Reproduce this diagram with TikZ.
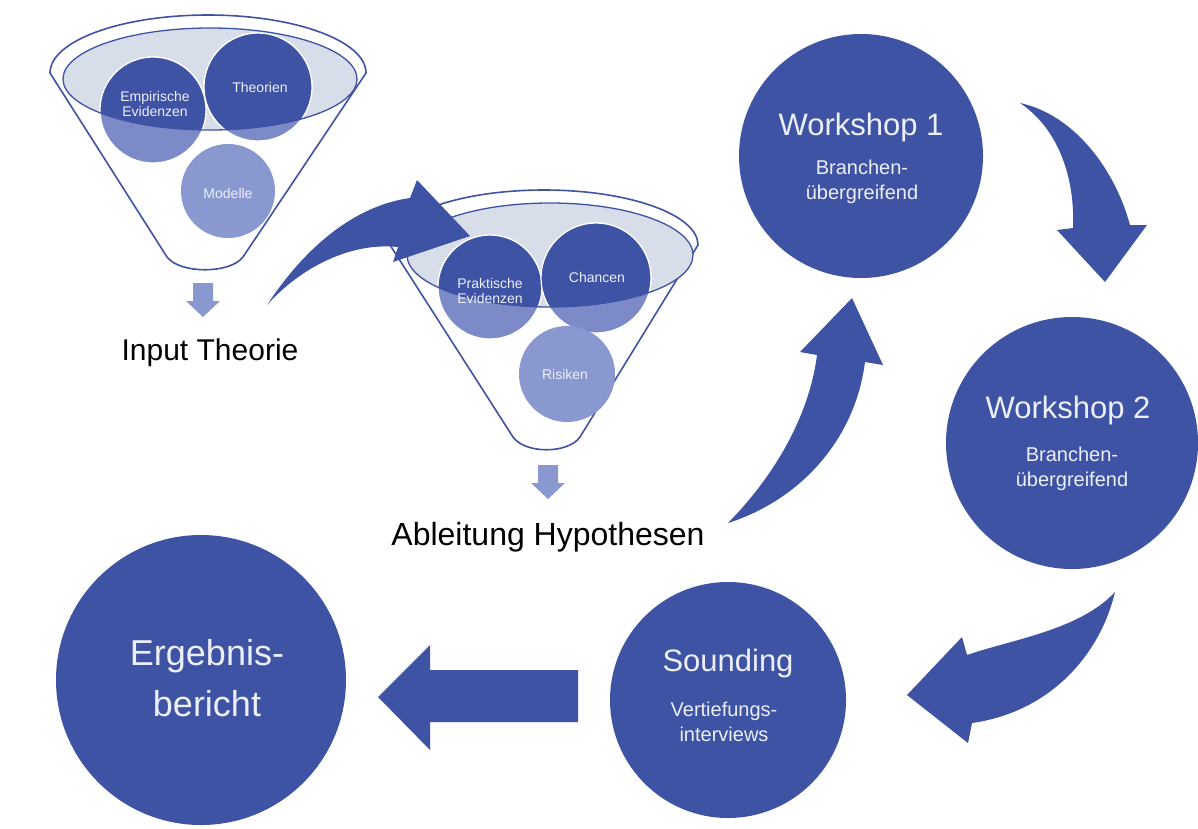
\documentclass[tikz,border=0pt]{standalone}
\usepackage{fontspec}
\setmainfont{Liberation Sans}
\usetikzlibrary{positioning}

\definecolor{deepblue}{RGB}{63,83,164}
\definecolor{midblue}{RGB}{124,139,200}
\definecolor{paleblue}{RGB}{138,152,208}
\definecolor{rimfill}{RGB}{216,221,234}
\definecolor{softwhite}{RGB}{236,239,248}

\begin{document}
\begin{tikzpicture}[x=1pt,y=-1pt,
    bigcirc/.style={circle,fill=deepblue,inner sep=0pt},
    titletxt/.style={text=softwhite,font=\fontsize{31}{36}\selectfont},
    subtxt/.style={text=softwhite,align=center,font=\fontsize{20}{25}\selectfont},
    smalltxt/.style={text=softwhite,align=center,font=\fontsize{14}{15}\selectfont},
    steptxt/.style={font=\fontsize{30}{34}\selectfont},
    funnelline/.style={draw=deepblue,line width=1.6pt},
    ringline/.style={draw=deepblue,line width=1.3pt},
    ballrim/.style={draw=white,line width=1.2pt}]
    \useasboundingbox[fill=white] (0,0) rectangle (1198,828);

    % funnel 1: input theory
    \draw[funnelline] (50,73) arc[start angle=180,end angle=360,x radius=158,y radius=58]
        -- (243,257) .. controls (230,274) and (180,274) .. (167,257) -- cycle;
    \fill[rimfill] (210,79) ellipse[x radius=147,y radius=51];
    \fill[midblue,ballrim] (153,110) circle[radius=53];
    \fill[midblue,ballrim] (258,87) circle[radius=54];
    \fill[paleblue] (228,191) circle[radius=47];
    \begin{scope}
        \clip (210,79) ellipse[x radius=147,y radius=51];
        \fill[deepblue,ballrim] (153,110) circle[radius=53];
        \fill[deepblue,ballrim] (258,87) circle[radius=54];
    \end{scope}
    \draw[ringline] (210,79) ellipse[x radius=147,y radius=51];
    \node[smalltxt] (emp) at (155,104) {Empirische\\Evidenzen};
    \node[smalltxt] (theo) at (260,87) {Theorien};
    \node[smalltxt] (mod) at (228,193) {Modelle};

    % funnel 2: hypotheses
    \draw[funnelline] (390,245) arc[start angle=180,end angle=360,x radius=154,y radius=55]
        -- (580,437) .. controls (568,454) and (525,454) .. (513,437) -- cycle;
    \fill[rimfill] (550,255) ellipse[x radius=143,y radius=52];
    \fill[midblue,ballrim] (490,287) circle[radius=52];
    \fill[midblue,ballrim] (596,278) circle[radius=55];
    \fill[paleblue] (567,374) circle[radius=48];
    \begin{scope}
        \clip (550,255) ellipse[x radius=143,y radius=52];
        \fill[deepblue,ballrim] (490,287) circle[radius=52];
        \fill[deepblue,ballrim] (596,278) circle[radius=55];
    \end{scope}
    \draw[ringline] (550,255) ellipse[x radius=143,y radius=52];
    \node[smalltxt] (prak) at (490,291) {Praktische\\Evidenzen};
    \node[smalltxt] (chan) at (597,277) {Chancen};
    \node[smalltxt] (ris) at (565,374) {Risiken};

    % small down arrows under the funnels
    \foreach \x/\y in {203/283, 548/465}
        \fill[paleblue] (\x-10,\y) -- (\x+10,\y) -- (\x+10,\y+18) -- (\x+17,\y+18)
            -- (\x,\y+34) -- (\x-17,\y+18) -- (\x-10,\y+18) -- cycle;

    \node[steptxt] (input) at (210,353) {Input Theorie};
    \node[steptxt,font=\fontsize{32}{36}\selectfont] (ableit) at (548,537) {Ableitung Hypothesen};

    % process circles
    \node[bigcirc,minimum size=244pt] (ws1) at (861,156) {};
    \node[titletxt] (ws1t) at (861,127) {Workshop 1};
    \node[subtxt] (ws1s) at (862,182) {Branchen-\\übergreifend};

    \node[bigcirc,minimum size=252pt] (ws2) at (1072,443) {};
    \node[titletxt] (ws2t) at (1068,410) {Workshop 2};
    \node[subtxt] (ws2s) at (1072,469) {Branchen-\\übergreifend};

    \node[bigcirc,minimum size=236pt] (sound) at (728,700) {};
    \node[titletxt] (soundt) at (728,663) {Sounding};
    \node[subtxt] (sounds) at (724,722) {Vertiefungs-\\interviews};

    \node[bigcirc,minimum size=290pt] (erg) at (201,680) {};
    \node[titletxt,align=center,font=\fontsize{36}{51}\selectfont] (ergt) at (207,678) {Ergebnis-\\bericht};

    % block arrows
    \fill[deepblue] (267,305) .. controls (310,240) and (360,205) .. (410,198) -- (417,180)
        -- (470,236) -- (393,262) -- (398,247) .. controls (350,242) and (300,268) .. (267,305) -- cycle;
    \fill[deepblue] (728,523) .. controls (780,470) and (810,410) .. (817,355) -- (800,352)
        -- (852,298) -- (883,365) -- (865,362) .. controls (855,440) and (800,500) .. (728,523) -- cycle;
    \fill[deepblue] (1020,103) .. controls (1060,130) and (1075,180) .. (1073,228) -- (1057,230)
        -- (1105,282) -- (1147,225) -- (1130,225) .. controls (1115,170) and (1075,115) .. (1020,103) -- cycle;
    \fill[deepblue] (1115,592) .. controls (1080,630) and (1010,640) .. (967,655) -- (962,637)
        -- (907,695) -- (968,743) -- (972,723) .. controls (1050,712) and (1100,655) .. (1115,592) -- cycle;
    \fill[deepblue] (578,670) -- (430,670) -- (430,645) -- (378,697) -- (430,750) -- (430,722)
        -- (578,722) -- cycle;
\end{tikzpicture}
\end{document}
